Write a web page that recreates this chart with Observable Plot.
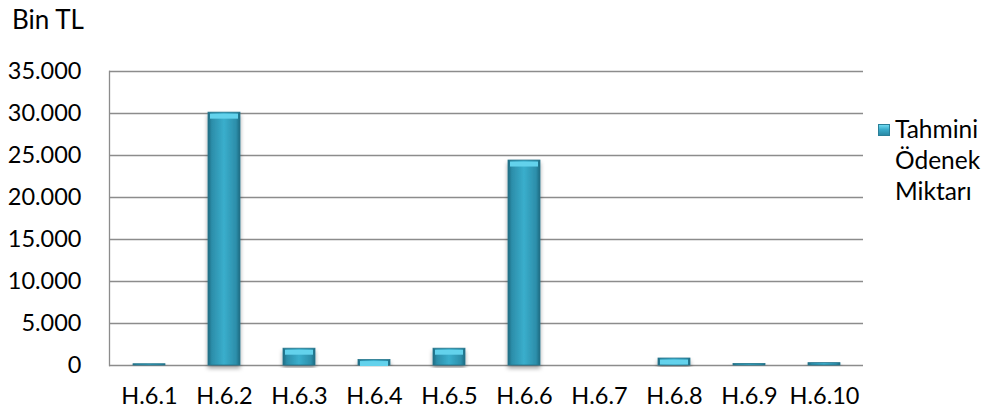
<!DOCTYPE html>
<html>
<head>
<meta charset="utf-8">
<script src="https://cdn.jsdelivr.net/npm/d3@7"></script>
<script src="https://cdn.jsdelivr.net/npm/@observablehq/plot@0.6"></script>
<style>
  body { margin: 0; background: #fff; }
  #wrap { position: relative; width: 992px; height: 419px; font-family: Lato, "Open Sans", sans-serif; color: #000; }
  #title { height: 40px; box-sizing: border-box; padding: 4px 0 0 12px; font-size: 26px; line-height: 30px; }
  #legend { position: absolute; left: 878px; top: 113px; font-size: 24.5px; line-height: 31px; }
  #legend .sw { display: inline-block; width: 12px; height: 12px; margin-right: 5px; vertical-align: 2px;
    background: linear-gradient(to bottom, #6fd9f0 0%, #3aaccb 45%, #2a8aa6 100%); border: 1px solid #2a7f98; box-sizing: border-box; }
</style>
</head>
<body>
<div id="wrap">
  <div id="title">Bin TL</div>
  <div id="chart"></div>
  <div id="legend"><div><span class="sw"></span>Tahmini</div><div style="padding-left:17px">Ödenek</div><div style="padding-left:17px">Miktarı</div></div>
</div>
<script>
const categories = ["H.6.1","H.6.2","H.6.3","H.6.4","H.6.5","H.6.6","H.6.7","H.6.8","H.6.9","H.6.10"];
const values = [150, 30100, 2000, 650, 2000, 24400, 0, 830, 180, 280];
const yTicks = [0, 5000, 10000, 15000, 20000, 25000, 30000, 35000];
const seriesName = "Tahmini Ödenek Miktarı";

const data = categories.map((c, i) => ({cat: c, value: values[i]}));
const trFormat = d3.formatLocale({decimal: ",", thousands: ".", grouping: [3], currency: ["", ""]}).format(",d");

const plot = Plot.plot({
  width: 992,
  height: 379,
  marginTop: 31,
  marginBottom: 54,
  marginLeft: 109,
  marginRight: 129,
  style: {fontFamily: "Lato, 'Open Sans', sans-serif", fontSize: "23.5px", color: "#000", background: "#fff"},
  x: {domain: categories, paddingInner: 0.575, paddingOuter: 0.2875, label: null},
  y: {domain: [0, 35000], label: null},
  marks: [
    Plot.gridY(yTicks, {stroke: "#8c8c8c", strokeOpacity: 1, strokeWidth: 1.3}),
    Plot.frame({anchor: "left", stroke: "#8c8c8c", strokeWidth: 1.3}),
    Plot.axisY(yTicks, {tickSize: 0, tickPadding: 28, tickFormat: trFormat, fontSize: 23.5}),
    Plot.axisX({tickSize: 0, tickPadding: 22, fontSize: 23.5}),
    Plot.barY(data, {x: "cat", y: "value", fill: "url(#barGrad)", stroke: "#24758c", strokeWidth: 0.8, filter: d => d.value > 0}),
    Plot.tickY(data.filter(d => d.value >= 500), {x: "cat", y: "value", stroke: "#63d2ec", strokeWidth: 5, dy: 3.5, insetLeft: 2, insetRight: 2})
  ]
});

const svg = d3.select(plot);
const defs = svg.insert("defs", ":first-child");
const g = defs.append("linearGradient").attr("id", "barGrad").attr("x1", "0").attr("x2", "1").attr("y1", "0").attr("y2", "0");
[["0%", "#1e6a80"], ["12%", "#2c8eaa"], ["50%", "#3aaecc"], ["88%", "#2c8eaa"], ["100%", "#1e6a80"]]
  .forEach(([o, c]) => g.append("stop").attr("offset", o).attr("stop-color", c));
const f = defs.append("filter").attr("id", "shadow").attr("x", "-20%").attr("y", "-5%").attr("width", "140%").attr("height", "120%");
f.append("feDropShadow").attr("dx", 0).attr("dy", 3).attr("stdDeviation", 2).attr("flood-color", "#000").attr("flood-opacity", 0.35);
svg.selectAll("g[aria-label='bar'] rect").attr("filter", "url(#shadow)");
document.getElementById("chart").appendChild(plot);
</script>
</body>
</html>
